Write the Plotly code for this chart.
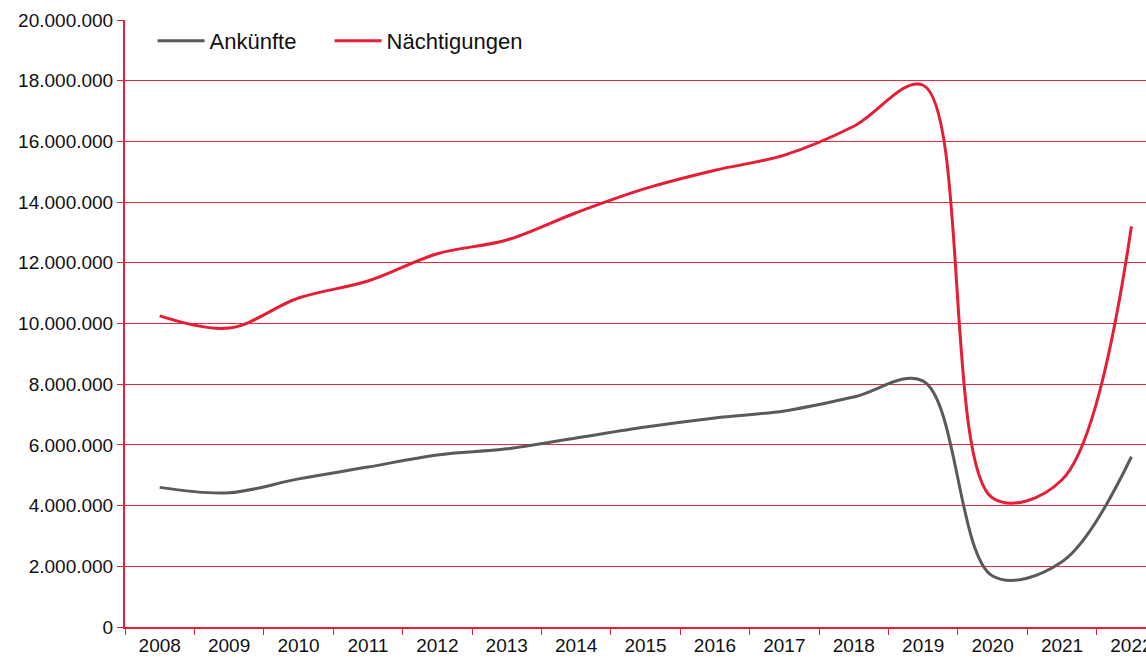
import plotly.graph_objects as go

years = [str(y) for y in range(2008, 2023)]
ankuenfte = [4.60e6, 4.42e6, 4.88e6, 5.27e6, 5.67e6, 5.87e6, 6.23e6, 6.59e6,
             6.89e6, 7.12e6, 7.58e6, 8.10e6, 1.68e6, 2.15e6, 5.61e6]
naechtigungen = [10.25e6, 9.85e6, 10.84e6, 11.40e6, 12.30e6, 12.75e6, 13.65e6, 14.45e6,
                 15.05e6, 15.55e6, 16.50e6, 17.85e6, 4.25e6, 4.85e6, 13.20e6]

RED = "#E31E35"
GRID = "#E8283E"
GRAY = "#5A5A5A"
FONT = "Arial, Liberation Sans, sans-serif"

fig = go.Figure()
fig.add_trace(go.Scatter(x=years, y=ankuenfte, name="Ankünfte", mode="lines", legend="legend",
                         line=dict(color=GRAY, width=3, shape="spline", smoothing=1.0)))
fig.add_trace(go.Scatter(x=years, y=naechtigungen, name="Nächtigungen", mode="lines", legend="legend2",
                         line=dict(color=RED, width=3, shape="spline", smoothing=1.0)))

legend_common = dict(orientation="h", y=1.0, xanchor="left", yanchor="top",
                     font=dict(size=22, color="#111111"), bgcolor="rgba(0,0,0,0)",
                     itemwidth=47)

fig.update_layout(
    width=1146, height=658,
    margin=dict(l=125, r=0, t=20, b=31, autoexpand=False),
    paper_bgcolor="white", plot_bgcolor="white",
    separators=",.",
    font=dict(family=FONT, size=19, color="#111111"),
    showlegend=True,
    legend=dict(x=0.027, **legend_common),
    legend2=dict(x=0.2004, **legend_common),
    xaxis=dict(type="category", range=[-0.5, 14.21], tickson="boundaries",
               automargin=False,
               showgrid=False, showline=True, linecolor=RED, linewidth=2,
               ticks="outside", ticklen=6, tickcolor=RED, tickwidth=1,
               tickfont=dict(size=19), zeroline=False),
    yaxis=dict(range=[0, 20e6], dtick=2e6, tickformat=",d", automargin=False,
               showgrid=True, gridcolor=GRID, gridwidth=1,
               showline=True, linecolor=RED, linewidth=2,
               ticks="outside", ticklen=6, tickcolor=RED,
               tickfont=dict(size=19), zeroline=False),
)

fig.write_html("out.html", config={"displayModeBar": False},
               post_script="document.body.style.margin='0';document.body.style.overflow='hidden';")
